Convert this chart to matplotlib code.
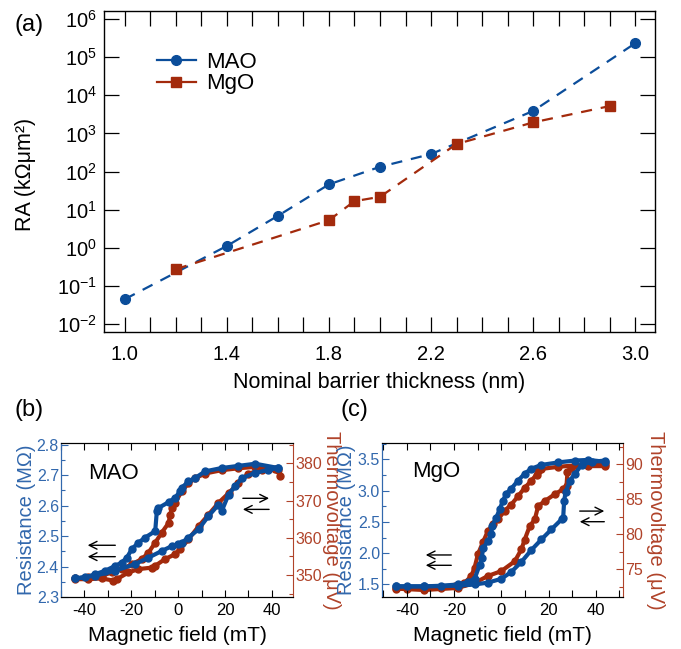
import numpy as np
import matplotlib
matplotlib.use('Agg')
import matplotlib.pyplot as plt
from matplotlib.lines import Line2D
from matplotlib.ticker import MultipleLocator, FixedLocator, FuncFormatter

plt.rcParams['font.family'] = ['Liberation Sans', 'DejaVu Sans']
plt.rcParams['mathtext.fontset'] = 'custom'
plt.rcParams['mathtext.rm'] = 'Liberation Sans'
plt.rcParams['mathtext.default'] = 'regular'
plt.rcParams['axes.unicode_minus'] = False

BLUE = '#0b4d9a'
RED = '#a32a0c'
BLUE_AX = '#3268ad'
RED_AX = '#b0432a'

# ---- panel (a): RA vs barrier thickness
mao_t = [1.0, 1.4, 1.6, 1.8, 2.0, 2.2, 2.6, 3.0]
mao_ra = [0.045, 1.12, 6.9, 46, 133, 287, 3870, 2.3e5]
mgo_t = [1.2, 1.8, 1.9, 2.0, 2.3, 2.6, 2.9]
mgo_ra = [0.275, 5.3, 16.7, 21.7, 525, 1940, 5200]

# ---- panel (b): MAO hysteresis loops
mao_res_down_h = [42.8, 32.9, 25.7, 18.6, 11.5, 7.2, 4.4, 1.5, 0.8, -1.3, -4.1, -8.4,
                  -9.1, -9.8, -14.1, -17.0, -19.8, -21.9, -24.1, -26.9, -31.2, -35.4,
                  -39.7, -44.0]
mao_res_down = [2.723, 2.737, 2.730, 2.723, 2.712, 2.690, 2.679, 2.658, 2.647, 2.625,
                2.611, 2.592, 2.582, 2.516, 2.495, 2.478, 2.457, 2.429, 2.413, 2.402,
                2.386, 2.375, 2.364, 2.361]
mao_res_up_h = [-44.0, -35.4, -26.9, -18.4, -12.7, -7.0, -2.7, 0.1, 1.5, 4.4, 8.7, 12.9,
                17.2, 18.6, 21.5, 24.3, 27.2, 32.9, 38.5, 42.8]
mao_res_up = [2.361, 2.370, 2.386, 2.408, 2.429, 2.451, 2.467, 2.473, 2.478, 2.495,
              2.522, 2.565, 2.603, 2.582, 2.636, 2.663, 2.690, 2.707, 2.717, 2.723]
mao_tv_down_h = [43.5, 42.8, 32.9, 25.7, 18.6, 11.5, 7.2, 4.4, 1.5, -1.3, -2.7, -3.4,
                 -4.1, -7.0, -9.8, -12.7, -15.5, -19.8, -24.1, -28.3, -32.6, -38.3, -44.0]
mao_tv_down = [376.6, 378.2, 379.1, 378.7, 378.2, 377.3, 376.0, 374.7, 372.5, 369.4,
               368.0, 366.2, 364.0, 361.4, 358.7, 356.0, 354.3, 352.9, 351.6, 350.7,
               349.8, 349.4, 349.1]
mao_tv_up_h = [-44.0, -38.3, -32.6, -27.6, -26.2, -21.2, -17.0, -11.3, -9.8, -5.6, -1.3,
               0.8, 4.4, 8.7, 12.9, 17.2, 21.5, 25.7, 30.0, 35.7, 41.4]
mao_tv_up = [348.9, 348.9, 349.1, 348.5, 348.9, 350.7, 351.6, 352.0, 352.5, 354.3, 355.6,
             356.9, 359.6, 363.1, 366.2, 369.4, 372.0, 374.7, 377.3, 378.2, 378.4]

# ---- panel (c): MgO hysteresis loops
mgo_res_down_h = [44.0, 36.8, 31.2, 24.1, 17.0, 12.7, 9.9, 7.1, 4.2, 2.1, 0.7, -0.7,
                  -2.1, -4.0, -4.2, -5.7, -7.8, -8.2, -9.2, -11.3, -14.2, -18.4, -25.5,
                  -32.6, -39.7, -44.6]
mgo_res_down = [3.46, 3.49, 3.48, 3.45, 3.41, 3.35, 3.27, 3.16, 3.03, 2.95, 2.84, 2.70,
                2.57, 2.43, 2.30, 2.19, 2.08, 1.92, 1.81, 1.59, 1.54, 1.50, 1.48, 1.47,
                1.47, 1.47]
mgo_res_up_h = [-44.6, -32.6, -18.4, -11.3, -5.7, 0.0, 4.2, 8.5, 12.7, 17.0, 21.2, 25.5,
                26.2, 26.6, 27.2, 29.0, 31.2, 34.0, 38.2, 44.0]
mgo_res_up = [1.47, 1.47, 1.48, 1.50, 1.53, 1.59, 1.70, 1.86, 2.05, 2.22, 2.38, 2.54,
              2.57, 2.84, 2.97, 3.16, 3.27, 3.41, 3.46, 3.48]
mgo_tv_down_h = [44.0, 36.8, 31.2, 24.1, 17.0, 15.6, 14.9, 12.7, 9.9, 7.1, 4.2, 1.4,
                 -1.4, -3.5, -5.7, -7.8, -9.9, -11.3, -12.7, -15.6, -19.8, -25.5, -32.6,
                 -39.7, -44.6]
mgo_tv_down = [89.7, 89.7, 89.8, 89.6, 89.3, 89.0, 88.5, 87.6, 86.6, 85.4, 84.2, 83.3,
               82.1, 81.4, 80.4, 78.8, 77.1, 75.2, 74.0, 73.0, 72.6, 72.3, 72.2, 72.2,
               72.3]
mgo_tv_up_h = [-44.6, -32.6, -18.4, -11.3, -5.7, 0.0, 5.7, 8.5, 9.9, 12.0, 14.2, 15.6,
               18.4, 22.7, 26.2, 27.6, 28.0, 29.7, 36.8, 44.0]
mgo_tv_up = [72.2, 72.0, 72.3, 73.0, 74.0, 74.7, 76.1, 77.8, 79.2, 81.1, 82.1, 84.0,
             84.7, 85.7, 86.4, 86.9, 88.8, 89.5, 90.0, 90.0]


def style_loop_axes(ax, ax2, xlim, ylim, ylim2, ymaj, ymin, y2maj, y2min, lab_x):
    ax.set_xlim(xlim)
    ax.set_ylim(ylim)
    ax2.set_ylim(ylim2)
    ax.xaxis.set_major_locator(MultipleLocator(20))
    ax.xaxis.set_minor_locator(MultipleLocator(10))
    ax.yaxis.set_major_locator(MultipleLocator(ymaj))
    ax.yaxis.set_minor_locator(MultipleLocator(ymin))
    ax2.yaxis.set_major_locator(MultipleLocator(y2maj))
    ax2.yaxis.set_minor_locator(MultipleLocator(y2min))
    ax.tick_params(axis='x', which='both', direction='in', top=True, length=5,
                   width=0.8, labelsize=12, pad=4)
    ax.tick_params(axis='y', which='major', direction='in', length=5, width=0.8,
                   colors=BLUE_AX, labelsize=11.5, pad=1.5)
    ax.tick_params(axis='y', which='minor', direction='in', length=3, width=0.8,
                   colors=BLUE_AX)
    ax2.tick_params(axis='y', which='major', direction='in', length=5, width=0.8,
                    colors=RED_AX, labelsize=11.5, pad=1.5)
    ax2.tick_params(axis='y', which='minor', direction='in', length=3, width=0.8,
                    colors=RED_AX)
    ax.spines['left'].set_color(BLUE_AX)
    ax2.spines['left'].set_color(BLUE_AX)
    ax2.spines['right'].set_color(RED_AX)
    ax.spines['right'].set_visible(False)
    ax.set_zorder(ax2.get_zorder() + 1)
    ax.patch.set_visible(False)
    ax.set_xlabel('Magnetic field (mT)', fontsize=15, va='center')
    ax.xaxis.set_label_coords(0.5, -0.247)
    ax.set_ylabel('Resistance (M\u03a9)', fontsize=14.5, color=BLUE_AX, va='center')
    ax.yaxis.set_label_coords(lab_x[0], 0.5)
    ax2.set_ylabel('Thermovoltage (\u03bcV)', fontsize=14.5, color=RED_AX,
                   rotation=270, va='center')
    ax2.yaxis.set_label_coords(lab_x[1], 0.5)


def draw_arrows(ax, left_x, right_x, left_y, right_y):
    kw = dict(arrowstyle='->', color='black', lw=1.0, mutation_scale=14)
    for y in left_y:
        ax.annotate('', xy=(left_x[0], y), xytext=(left_x[1], y),
                    xycoords='axes fraction', arrowprops=kw)
    ax.annotate('', xy=(right_x[1], right_y[0]), xytext=(right_x[0], right_y[0]),
                xycoords='axes fraction', arrowprops=kw)
    ax.annotate('', xy=(right_x[0], right_y[1]), xytext=(right_x[1], right_y[1]),
                xycoords='axes fraction', arrowprops=kw)


fig = plt.figure(figsize=(6.81, 6.49), dpi=100)

# ---------------- (a)
ax = fig.add_axes([0.1527, 0.4884, 0.8091, 0.4946])
ax.plot(mao_t, mao_ra, color=BLUE, lw=1.6, dashes=[5, 4], marker='o', ms=7,
        zorder=3)
ax.plot(mgo_t, mgo_ra, color=RED, lw=1.6, dashes=[5, 4], marker='s', ms=6.5,
        zorder=3)
ax.set_yscale('log')
ax.set_xlim(0.918, 3.078)
ax.set_ylim(10 ** -2.21, 10 ** 6.21)
ax.xaxis.set_major_locator(FixedLocator([1.0, 1.4, 1.8, 2.2, 2.6, 3.0]))
ax.xaxis.set_minor_locator(MultipleLocator(0.1))
ax.xaxis.set_major_formatter(FuncFormatter(lambda v, p: '%.1f' % v))
ax.yaxis.set_major_locator(FixedLocator([10.0 ** k for k in range(-2, 7)]))
ax.yaxis.set_minor_locator(FixedLocator([]))
ax.yaxis.set_major_formatter(FuncFormatter(
    lambda v, p: r'$\mathregular{10^{%d}}$' % int(round(np.log10(v)))))
ax.tick_params(which='both', direction='in', top=True, right=True, length=10.5,
               width=0.9, labelsize=14.5)
ax.tick_params(axis='x', pad=9)
ax.tick_params(axis='y', pad=5)
for s in ax.spines.values():
    s.set_linewidth(1.0)
ax.set_xlabel('Nominal barrier thickness (nm)', fontsize=15.5, va='center')
ax.xaxis.set_label_coords(0.5, -0.156)
ax.set_ylabel('RA (k\u03a9\u03bcm\u00b2)', fontsize=15.5, va='center')
ax.yaxis.set_label_coords(-0.143, 0.492)
handles = [Line2D([], [], color=BLUE, lw=1.6, marker='o', ms=7),
           Line2D([], [], color=RED, lw=1.6, marker='s', ms=6.5)]
ax.legend(handles, ['MAO', 'MgO'], loc='upper left', bbox_to_anchor=(0.06, 0.935),
          frameon=False, fontsize=16, handlelength=1.75, handletextpad=0.45,
          labelspacing=0.02)
fig.text(0.022, 0.962, '(a)', fontsize=17, va='center')

# ---------------- (b)
axb = fig.add_axes([0.0896, 0.0801, 0.3406, 0.2373])
axb2 = axb.twinx()
axb2.plot(mao_tv_down_h, mao_tv_down, color=RED, lw=3, marker='o', ms=5)
axb2.plot(mao_tv_up_h, mao_tv_up, color=RED, lw=3, marker='o', ms=5)
axb.plot(mao_res_down_h, mao_res_down, color=BLUE, lw=3, marker='o', ms=5)
axb.plot(mao_res_up_h, mao_res_up, color=BLUE, lw=3, marker='o', ms=5)
style_loop_axes(axb, axb2, (-50, 49), (2.3, 2.805), (344.1, 385.5),
                0.1, 0.05, 10, 5, (-0.147, 1.164))
axb.text(0.118, 0.80, 'MAO', transform=axb.transAxes, fontsize=16, va='center')
draw_arrows(axb, (0.103, 0.246), (0.772, 0.909), (0.336, 0.262), (0.641, 0.569))
fig.text(0.022, 0.368, '(b)', fontsize=17, va='center')

# ---------------- (c)
axc = fig.add_axes([0.5609, 0.0801, 0.3539, 0.2373])
axc2 = axc.twinx()
axc2.plot(mgo_tv_down_h, mgo_tv_down, color=RED, lw=3, marker='o', ms=5)
axc2.plot(mgo_tv_up_h, mgo_tv_up, color=RED, lw=3, marker='o', ms=5)
axc.plot(mgo_res_down_h, mgo_res_down, color=BLUE, lw=3, marker='o', ms=5)
axc.plot(mgo_res_up_h, mgo_res_up, color=BLUE, lw=3, marker='o', ms=5)
style_loop_axes(axc, axc2, (-50.5, 51.5), (1.3, 3.76), (71.0, 93.0),
                0.5, 0.25, 5, 2.5, (-0.149, 1.133))
axc.text(0.124, 0.818, 'MgO', transform=axc.transAxes, fontsize=16, va='center')
draw_arrows(axc, (0.170, 0.299), (0.809, 0.934), (0.273, 0.206), (0.558, 0.489))
fig.text(0.5, 0.368, '(c)', fontsize=17, va='center')

fig.savefig('out.png', dpi=100)
